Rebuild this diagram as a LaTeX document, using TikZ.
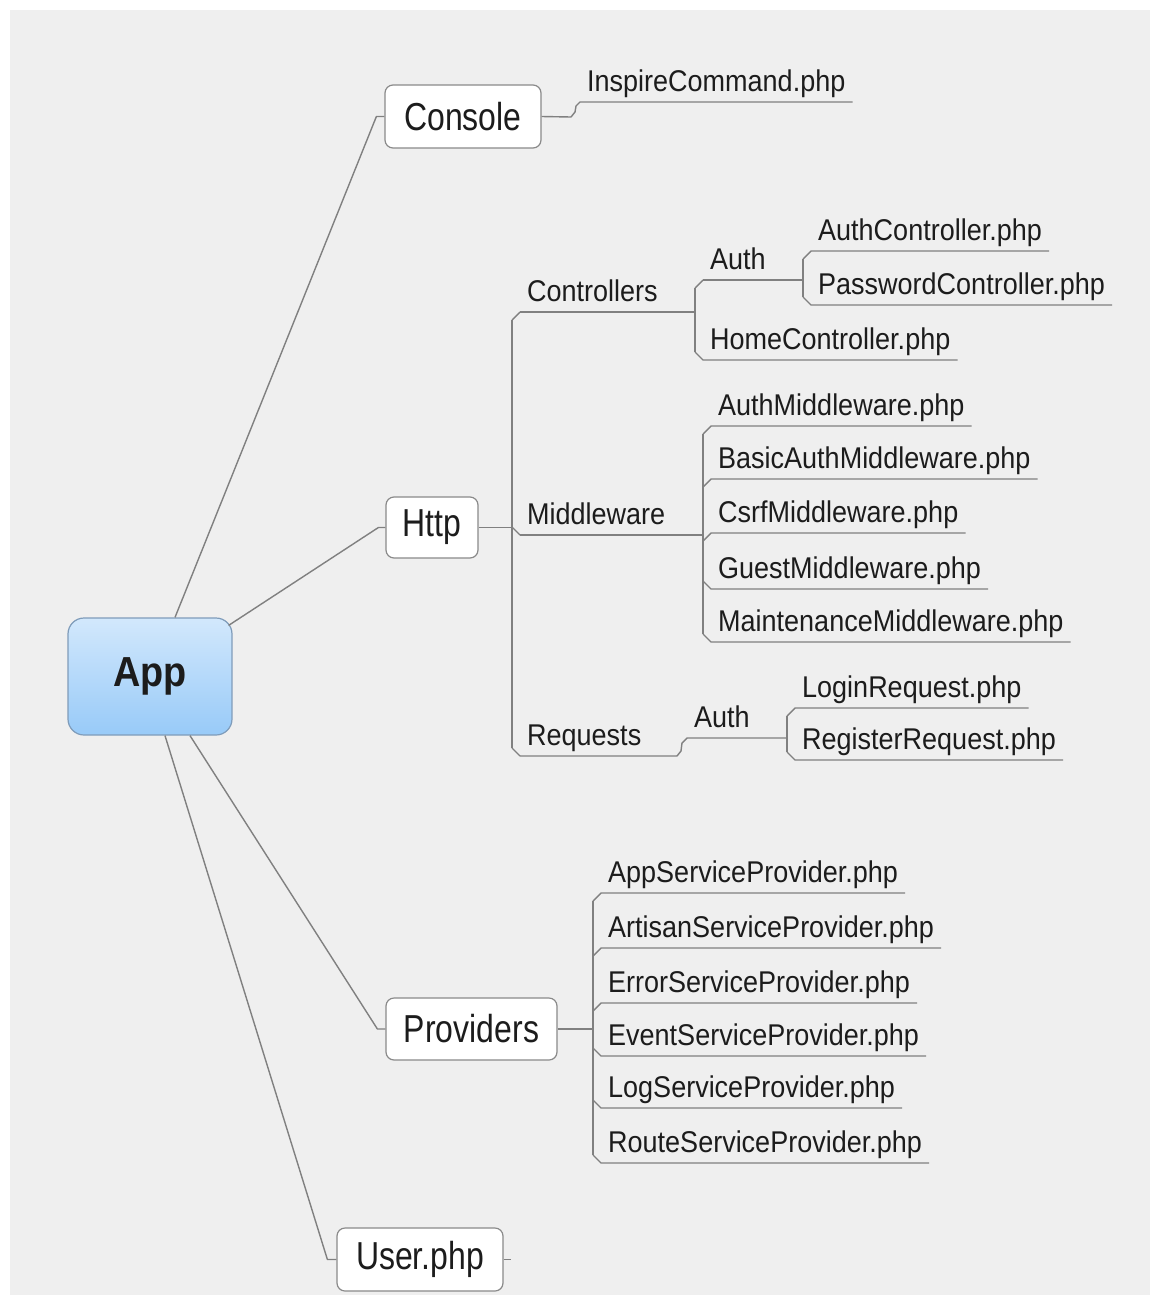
\documentclass[tikz,border=0pt]{standalone}
\usepackage{fontspec}
\usetikzlibrary{calc}
\newfontfamily\mmfont{Liberation Sans}[FakeStretch=0.9]
\newfontfamily\mmtopicfont{Liberation Sans}[FakeStretch=0.82]
\newcommand\leaffont{\mmfont\fontsize{30}{36}\selectfont}
\newcommand\boxfont{\mmtopicfont\fontsize{39}{46}\selectfont}
\newcommand\appfont{\mmfont\bfseries\fontsize{42}{50}\selectfont}
\definecolor{bgpaper}{HTML}{EFEFEF}
\definecolor{txt}{HTML}{1C1C1C}
\definecolor{wire}{HTML}{808080}
\definecolor{boxline}{HTML}{8A8A8A}
\definecolor{appTop}{HTML}{D2E8FC}
\definecolor{appBot}{HTML}{98CAF8}
\definecolor{appLine}{HTML}{7F9CBA}
\tikzset{
  link/.style={draw=wire, line width=1.4pt, line join=round},
  topic/.style={draw=boxline, fill=white, rounded corners=8pt, line width=1.2pt,
    font=\boxfont, text=txt, inner sep=0pt},
  central/.style={draw=appLine, top color=appTop, bottom color=appBot,
    rounded corners=16pt, line width=1.2pt, font=\appfont, text=txt,
    minimum width=164pt, minimum height=117pt, inner sep=0pt},
  leaf/.style={anchor=south west, inner xsep=7pt, inner ysep=10pt,
    text depth=0pt, font=\leaffont, text=txt},
}
\begin{document}
\begin{tikzpicture}[x=1pt, y=-1pt]
% paper
\useasboundingbox (0,0) rectangle (1159,1301);
\fill[white] (0,0) rectangle (1159,1301);
\fill[bgpaper] (10,10) rectangle (1150,1295);

% central topic and main topics
\node[central] (app) at (150,676.5) {App};
\node[topic, minimum width=156pt, minimum height=63pt] (console) at (463,116.5) {Console};
\node[topic, minimum width=92pt, minimum height=61pt] (http) at (432,527.5) {Http};
\node[topic, minimum width=171pt, minimum height=62pt] (providers) at (471.5,1029) {Providers};
\node[topic, minimum width=166pt, minimum height=63pt] (user) at (420,1259.5) {User.php};

% App to main topics
\draw[link] ($(app.north)+(25,0)$) -- ($(console.west)+(-8,0)$) -- (console.west);
\draw[link] ($(app.north east)+(-4,8)$) -- ($(http.west)+(-7,0)$) -- (http.west);
\draw[link] ($(app.south)+(40,0)$) -- ($(providers.west)+(-8,0)$) -- (providers.west);
\draw[link] ($(app.south)+(15,0)$) -- ($(user.west)+(-9,0)$) -- (user.west);
\draw[link] (user.east) -- ++(7,0);

% Console
\node[leaf] (insp) at (580,102) {InspireCommand.php};
\draw[link] (console.east) -- ($(insp.south west)+(-9,15)$) -- ($(insp.south west)+(-5,10)$)
  -- ($(insp.south west)+(-4,4)$) -- (insp.south west) -- (insp.south east);

% Http
\coordinate (httpJ) at (512,527.5);
\node[leaf] (ctrl) at (520,312) {Controllers};
\node[leaf] (mid) at (520,535) {Middleware};
\node[leaf] (req) at (520,756) {Requests};
\draw[link] (http.east) -- (httpJ);
\draw[link] ($(ctrl.south west)+(-8,8)$) -- ($(req.south west)+(-8,-8)$);
\draw[link] ($(ctrl.south west)+(-8,8)$) -- (ctrl.south west);
\draw[link] ($(mid.south west)+(-8,-8)$) -- (mid.south west);
\draw[link] ($(req.south west)+(-8,-8)$) -- (req.south west);

% Controllers
\coordinate (ctrlJ) at (695,312);
\node[leaf] (authC) at (703,280) {Auth};
\node[leaf] (home) at (703,360) {HomeController.php};
\draw[link] (ctrl.south west) -- (ctrlJ);
\draw[link] ($(authC.south west)+(-8,8)$) -- ($(home.south west)+(-8,-8)$);
\draw[link] ($(authC.south west)+(-8,8)$) -- (authC.south west);
\draw[link] ($(home.south west)+(-8,-8)$) -- (home.south west) -- (home.south east);

% Controllers / Auth
\coordinate (authCJ) at (803,280);
\node[leaf] (authCtl) at (811,251) {AuthController.php};
\node[leaf] (pass) at (811,305) {PasswordController.php};
\draw[link] (authC.south west) -- (authCJ);
\draw[link] ($(authCtl.south west)+(-8,8)$) -- ($(pass.south west)+(-8,-8)$);
\draw[link] ($(authCtl.south west)+(-8,8)$) -- (authCtl.south west) -- (authCtl.south east);
\draw[link] ($(pass.south west)+(-8,-8)$) -- (pass.south west) -- (pass.south east);

% Middleware
\coordinate (midJ) at (703,535);
\node[leaf] (m1) at (711,426) {AuthMiddleware.php};
\node[leaf] (m2) at (711,479) {BasicAuthMiddleware.php};
\node[leaf] (m3) at (711,533) {CsrfMiddleware.php};
\node[leaf] (m4) at (711,589) {GuestMiddleware.php};
\node[leaf] (m5) at (711,642) {MaintenanceMiddleware.php};
\draw[link] (mid.south west) -- (midJ);
\draw[link] ($(m1.south west)+(-8,8)$) -- ($(m5.south west)+(-8,-8)$);
\foreach \n in {m1,m2,m3}
  \draw[link] ($(\n.south west)+(-8,8)$) -- (\n.south west) -- (\n.south east);
\foreach \n in {m4,m5}
  \draw[link] ($(\n.south west)+(-8,-8)$) -- (\n.south west) -- (\n.south east);

% Requests
\node[leaf] (authR) at (687,738) {Auth};
\coordinate (authRJ) at (787,738);
\node[leaf] (login) at (795,708) {LoginRequest.php};
\node[leaf] (reg) at (795,760) {RegisterRequest.php};
\draw[link] (req.south west) -- ($(authR.south west)+(-10,18)$) -- ($(authR.south west)+(-6,13)$)
  -- ($(authR.south west)+(-5,5)$) -- (authR.south west) -- (authRJ);
\draw[link] ($(login.south west)+(-8,8)$) -- ($(reg.south west)+(-8,-8)$);
\draw[link] ($(login.south west)+(-8,8)$) -- (login.south west) -- (login.south east);
\draw[link] ($(reg.south west)+(-8,-8)$) -- (reg.south west) -- (reg.south east);

% Providers
\coordinate (provJ) at (593,1029);
\node[leaf] (p1) at (601,893) {AppServiceProvider.php};
\node[leaf] (p2) at (601,948) {ArtisanServiceProvider.php};
\node[leaf] (p3) at (601,1003) {ErrorServiceProvider.php};
\node[leaf] (p4) at (601,1056) {EventServiceProvider.php};
\node[leaf] (p5) at (601,1108) {LogServiceProvider.php};
\node[leaf] (p6) at (601,1163) {RouteServiceProvider.php};
\draw[link] (providers.east) -- (provJ);
\draw[link] ($(p1.south west)+(-8,8)$) -- ($(p6.south west)+(-8,-8)$);
\foreach \n in {p1,p2,p3}
  \draw[link] ($(\n.south west)+(-8,8)$) -- (\n.south west) -- (\n.south east);
\foreach \n in {p4,p5,p6}
  \draw[link] ($(\n.south west)+(-8,-8)$) -- (\n.south west) -- (\n.south east);
\end{tikzpicture}
\end{document}
